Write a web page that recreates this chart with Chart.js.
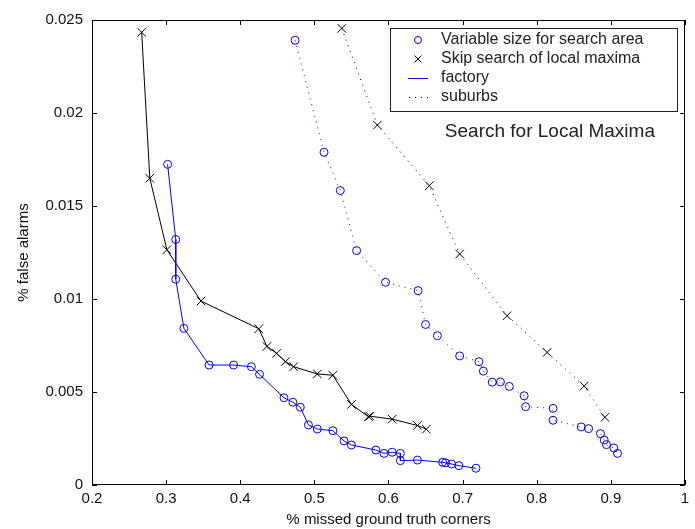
<!DOCTYPE html>
<html>
<head>
<meta charset="utf-8">
<title>Search for Local Maxima</title>
<script src="https://cdn.jsdelivr.net/npm/chart.js@4/dist/chart.umd.min.js"></script>
<style>
  html, body { margin: 0; padding: 0; background: #fff; }
  canvas { display: block; }
</style>
</head>
<body>
<canvas id="roc" width="695" height="529"></canvas>
<script>
// ---- data ----
// factory, variable size for search area (blue o, solid)
var factVarX = [0.302, 0.313, 0.313, 0.324, 0.358, 0.391, 0.415, 0.426, 0.459, 0.471, 0.481, 0.492, 0.504, 0.525, 0.540, 0.550, 0.583, 0.594, 0.605, 0.616, 0.616, 0.639, 0.673, 0.677, 0.685, 0.695, 0.718];
var factVarY = [0.01724, 0.0132, 0.01106, 0.00842, 0.00645, 0.00645, 0.00636, 0.00595, 0.00469, 0.00445, 0.00418, 0.00323, 0.00301, 0.00292, 0.00237, 0.00215, 0.00188, 0.0017, 0.00176, 0.0017, 0.00131, 0.00134, 0.00122, 0.00119, 0.00113, 0.00104, 0.0009];

// factory, skip search of local maxima (black x, solid)
var factSkipX = [0.267, 0.278, 0.301, 0.347, 0.425, 0.436, 0.449, 0.461, 0.472, 0.504, 0.525, 0.550, 0.573, 0.575, 0.605, 0.639, 0.651];
var factSkipY = [0.02434, 0.01649, 0.01265, 0.00989, 0.0084, 0.00745, 0.00708, 0.00663, 0.00636, 0.00597, 0.0059, 0.00433, 0.00367, 0.0037, 0.00354, 0.0032, 0.003];

// suburbs, variable size for search area (blue o, dotted)
var subVarX = [0.474, 0.513, 0.535, 0.557, 0.596, 0.640, 0.650, 0.666, 0.696, 0.722, 0.728, 0.740, 0.751, 0.763, 0.783, 0.785, 0.822, 0.822, 0.860, 0.870, 0.886, 0.891, 0.894, 0.904, 0.909];
var subVarY = [0.02391, 0.01789, 0.01583, 0.0126, 0.0109, 0.01045, 0.00863, 0.00803, 0.00694, 0.00663, 0.00612, 0.00553, 0.00554, 0.0053, 0.0048, 0.00421, 0.00412, 0.00348, 0.00312, 0.00303, 0.00276, 0.00242, 0.00217, 0.00199, 0.0017];

// suburbs, skip search of local maxima (black x, dotted)
var subSkipX = [0.537, 0.585, 0.655, 0.696, 0.760, 0.814, 0.864, 0.892];
var subSkipY = [0.02455, 0.01935, 0.01609, 0.01242, 0.0091, 0.00713, 0.00532, 0.00364];

var xTicks = [0.2, 0.3, 0.4, 0.5, 0.6, 0.7, 0.8, 0.9, 1];
var yTicks = [0, 0.005, 0.01, 0.015, 0.02, 0.025];

var legendLabels = ["Variable size for search area", "Skip search of local maxima", "factory", "suburbs"];
var noteText = "Search for Local Maxima";
var notePos = [0.676, 0.019];

// ---- helpers ----
function pairs(xs, ys) {
  var out = [];
  for (var i = 0; i < xs.length; i++) out.push({ x: xs[i], y: ys[i] });
  return out;
}
function fmt(v) { return String(+(+v).toFixed(3)); }

var FONT = "'Liberation Sans', Arial, sans-serif";
var BLUE = "#0000ff";
var BLACK = "#000000";

Chart.defaults.font.family = FONT;
Chart.defaults.color = BLACK;

// MATLAB-like box, inward ticks, note text and legend
var matlabFrame = {
  id: "matlabFrame",
  afterDraw: function (chart) {
    var ctx = chart.ctx, a = chart.chartArea;
    var xs = chart.scales.x, ys = chart.scales.y;
    var TL = 5;
    ctx.save();
    ctx.strokeStyle = BLACK;
    ctx.lineWidth = 1;
    ctx.strokeRect(Math.round(a.left) + 0.5, Math.round(a.top) + 0.5,
      Math.round(a.right - a.left) - 1, Math.round(a.bottom - a.top) - 1);

    ctx.beginPath();
    xTicks.forEach(function (v) {
      var px = Math.round(xs.getPixelForValue(v)) + 0.5;
      ctx.moveTo(px, a.bottom); ctx.lineTo(px, a.bottom - TL);
      ctx.moveTo(px, a.top); ctx.lineTo(px, a.top + TL);
    });
    yTicks.forEach(function (v) {
      var py = Math.round(ys.getPixelForValue(v)) + 0.5;
      ctx.moveTo(a.left, py); ctx.lineTo(a.left + TL, py);
      ctx.moveTo(a.right, py); ctx.lineTo(a.right - TL, py);
    });
    ctx.stroke();

    // note
    ctx.fillStyle = "#222";
    ctx.font = "19px " + FONT;
    ctx.textAlign = "left";
    ctx.textBaseline = "middle";
    ctx.fillText(noteText, xs.getPixelForValue(notePos[0]), ys.getPixelForValue(notePos[1]));

    // legend box
    var W = 287, H = 83;
    var L = Math.round(a.right) - 295, T = Math.round(a.top) + 8;
    ctx.fillStyle = "#fff";
    ctx.fillRect(L, T, W, H);
    ctx.strokeStyle = "#222";
    ctx.strokeRect(L + 0.5, T + 0.5, W, H);

    var sx = L + 28;
    ctx.lineWidth = 1;
    for (var i = 0; i < legendLabels.length; i++) {
      var ry = T + 12 + i * 19;
      if (i === 0) {
        ctx.strokeStyle = BLUE;
        ctx.beginPath(); ctx.arc(sx, ry, 3.5, 0, Math.PI * 2); ctx.stroke();
      } else if (i === 1) {
        ctx.strokeStyle = BLACK;
        ctx.beginPath();
        ctx.moveTo(sx - 3.5, ry - 3.5); ctx.lineTo(sx + 3.5, ry + 3.5);
        ctx.moveTo(sx + 3.5, ry - 3.5); ctx.lineTo(sx - 3.5, ry + 3.5);
        ctx.stroke();
      } else if (i === 2) {
        ctx.strokeStyle = BLUE;
        ctx.beginPath(); ctx.moveTo(sx - 10, ry + 0.5); ctx.lineTo(sx + 10, ry + 0.5); ctx.stroke();
      } else {
        ctx.fillStyle = BLACK;
        for (var d = -9; d <= 9; d += 6) ctx.fillRect(sx + d, ry, 1, 1);
      }
      ctx.fillStyle = "#222";
      ctx.font = "16px " + FONT;
      ctx.fillText(legendLabels[i], L + 51, ry);
    }
    ctx.restore();
  }
};

function series(label, xs, ys, color, style, dotted) {
  return {
    label: label,
    data: pairs(xs, ys),
    showLine: true,
    borderColor: color,
    borderWidth: 1,
    borderDash: dotted ? [1, 5] : [],
    pointStyle: style,
    pointRadius: style === "circle" ? 4 : 6,
    pointBorderWidth: 1,
    pointBorderColor: color,
    pointBackgroundColor: "rgba(0,0,0,0)",
    tension: 0
  };
}

new Chart(document.getElementById("roc"), {
  type: "scatter",
  data: {
    datasets: [
      series("factory, variable size", factVarX, factVarY, BLUE, "circle", false),
      series("factory, skip search", factSkipX, factSkipY, BLACK, "crossRot", false),
      series("suburbs, variable size", subVarX, subVarY, BLUE, "circle", true),
      series("suburbs, skip search", subSkipX, subSkipY, BLACK, "crossRot", true)
    ]
  },
  options: {
    responsive: false,
    animation: false,
    devicePixelRatio: 1,
    layout: { padding: { top: 20, right: 10, left: 0, bottom: 0 } },
    plugins: { legend: { display: false }, tooltip: { enabled: false } },
    scales: {
      x: {
        type: "linear",
        min: 0.2, max: 1,
        afterFit: function (s) { s.height = 44; },
        afterBuildTicks: function (s) { s.ticks = xTicks.map(function (v) { return { value: v }; }); },
        grid: { display: false, drawTicks: false },
        border: { display: false },
        ticks: { padding: 5, font: { size: 15 }, color: "#111", callback: fmt },
        title: { display: true, text: "% missed ground truth corners", font: { size: 15 }, color: "#111", padding: { top: 0, bottom: 0 } }
      },
      y: {
        type: "linear",
        min: 0, max: 0.025,
        afterFit: function (s) { s.width = 92; },
        afterBuildTicks: function (s) { s.ticks = yTicks.map(function (v) { return { value: v }; }); },
        grid: { display: false, drawTicks: false },
        border: { display: false },
        ticks: { padding: 9, font: { size: 15 }, color: "#111", callback: fmt },
        title: { display: true, text: "% false alarms", font: { size: 15 }, color: "#111", padding: { top: 15, bottom: 0 } }
      }
    }
  },
  plugins: [matlabFrame]
});
</script>
</body>
</html>
